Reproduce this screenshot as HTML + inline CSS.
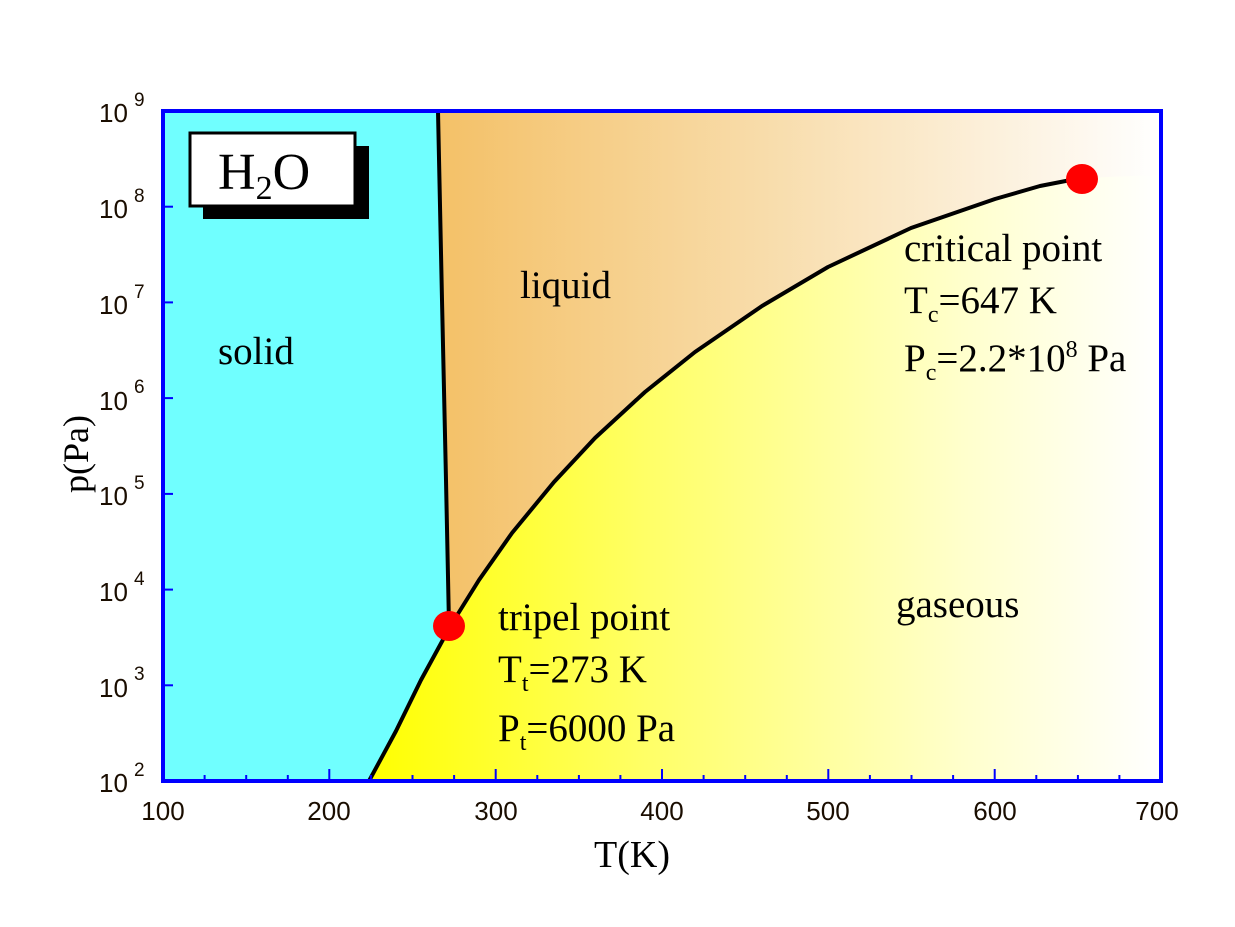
<!DOCTYPE html>
<html><head><meta charset="utf-8"><style>
html,body{margin:0;padding:0;background:#fff;}
svg{display:block;}
.tk{font-family:"Liberation Sans",sans-serif;font-size:26px;fill:#1a0d00;}
.sm{font-family:"Liberation Sans",sans-serif;font-size:19px;fill:#1a0d00;}
.sf{font-family:"Liberation Serif",serif;fill:#000;}
</style></head><body>
<svg width="1235" height="927" viewBox="0 0 1235 927" xmlns="http://www.w3.org/2000/svg">
<defs>
<linearGradient id="liq" x1="163" y1="0" x2="1161" y2="0" gradientUnits="userSpaceOnUse">
<stop offset="0.28" stop-color="#f4c168"/><stop offset="0.6" stop-color="#f8dcaa"/><stop offset="1" stop-color="#ffffff"/></linearGradient>
<linearGradient id="gas" x1="368" y1="0" x2="1161" y2="0" gradientUnits="userSpaceOnUse">
<stop offset="0" stop-color="#ffff00"/><stop offset="0.35" stop-color="#ffff66"/><stop offset="0.75" stop-color="#ffffcc"/><stop offset="1" stop-color="#ffffff"/></linearGradient>
</defs>
<rect x="163" y="111" width="998" height="670" fill="url(#liq)"/>
<path d="M369,781 L396,731 L421,680 L451,625 L479,580 L512,533 L554,482 L595,438 L645,392 L695,352 L762,306 L828,267 L911,228 L995,199 L1040,186 L1081,178 L1161,175 L1161,781 Z" fill="url(#gas)"/>
<path d="M163,111 L438,111 L449,625 L421,680 L396,731 L369,781 L163,781 Z" fill="#70ffff"/>
<path d="M438,111 L442,300 L446,480 L449,625" fill="none" stroke="#000" stroke-width="4"/>
<path d="M369,781 L396,731 L421,680 L451,625 L479,580 L512,533 L554,482 L595,438 L645,392 L695,352 L762,306 L828,267 L911,228 L995,199 L1040,186 L1081,178" fill="none" stroke="#000" stroke-width="4" stroke-linejoin="round"/>
<ellipse cx="449" cy="626" rx="16" ry="15" fill="#f00"/>
<ellipse cx="1082" cy="179" rx="16" ry="15" fill="#f00"/>
<rect x="163" y="111" width="998" height="670" fill="none" stroke="#0000ff" stroke-width="4"/>
<g stroke="#0000ff" stroke-width="2">
<line x1="163" y1="206.7" x2="173" y2="206.7"/><line x1="163" y1="302.4" x2="173" y2="302.4"/><line x1="163" y1="398.1" x2="173" y2="398.1"/><line x1="163" y1="493.9" x2="173" y2="493.9"/><line x1="163" y1="589.6" x2="173" y2="589.6"/><line x1="163" y1="685.3" x2="173" y2="685.3"/>
<line x1="329.3" y1="781" x2="329.3" y2="769"/><line x1="495.7" y1="781" x2="495.7" y2="769"/><line x1="662" y1="781" x2="662" y2="769"/><line x1="828.3" y1="781" x2="828.3" y2="769"/><line x1="994.7" y1="781" x2="994.7" y2="769"/>
<line x1="204.6" y1="781" x2="204.6" y2="775"/><line x1="246.2" y1="781" x2="246.2" y2="775"/><line x1="287.8" y1="781" x2="287.8" y2="775"/>
<line x1="370.9" y1="781" x2="370.9" y2="775"/><line x1="412.5" y1="781" x2="412.5" y2="775"/><line x1="454.1" y1="781" x2="454.1" y2="775"/>
<line x1="537.3" y1="781" x2="537.3" y2="775"/><line x1="578.9" y1="781" x2="578.9" y2="775"/><line x1="620.4" y1="781" x2="620.4" y2="775"/>
<line x1="703.6" y1="781" x2="703.6" y2="775"/><line x1="745.2" y1="781" x2="745.2" y2="775"/><line x1="786.8" y1="781" x2="786.8" y2="775"/>
<line x1="869.9" y1="781" x2="869.9" y2="775"/><line x1="911.5" y1="781" x2="911.5" y2="775"/><line x1="953.1" y1="781" x2="953.1" y2="775"/>
<line x1="1036.3" y1="781" x2="1036.3" y2="775"/><line x1="1077.9" y1="781" x2="1077.9" y2="775"/><line x1="1119.4" y1="781" x2="1119.4" y2="775"/>
</g>
<g class="tk">
<text x="99" y="122">10</text><text x="99" y="218">10</text><text x="99" y="314">10</text><text x="99" y="410">10</text><text x="99" y="505">10</text><text x="99" y="601">10</text><text x="99" y="697">10</text><text x="99" y="792">10</text>
</g>
<g class="sm">
<text x="134" y="106">9</text><text x="134" y="202">8</text><text x="134" y="298">7</text><text x="134" y="393">6</text><text x="134" y="489">5</text><text x="134" y="585">4</text><text x="134" y="680">3</text><text x="134" y="776">2</text>
</g>
<g class="tk" text-anchor="middle">
<text x="163" y="820">100</text><text x="329" y="820">200</text><text x="496" y="820">300</text><text x="662" y="820">400</text><text x="828" y="820">500</text><text x="995" y="820">600</text><text x="1157" y="820">700</text>
</g>
<text class="sf" x="632" y="867" font-size="38" text-anchor="middle">T(K)</text>
<text class="sf" font-size="36" text-anchor="middle" transform="translate(88,454) rotate(-90)">p(Pa)</text>
<rect x="203" y="146" width="166" height="73" fill="#000"/>
<rect x="190" y="133" width="165" height="73" fill="#fff" stroke="#000" stroke-width="3"/>
<text class="sf" x="218" y="189" font-size="52">H<tspan font-size="34" dy="10">2</tspan><tspan dy="-10">O</tspan></text>
<g class="sf" font-size="39">
<text x="218" y="364">solid</text>
<text x="520" y="298">liquid</text>
<text x="896" y="617">gaseous</text>
<text x="904" y="261">critical point</text>
<text x="904" y="313">T<tspan font-size="24" dy="9">c</tspan><tspan dy="-9">=647 K</tspan></text>
<text x="904" y="371">P<tspan font-size="24" dy="9">c</tspan><tspan dy="-9">=2.2*10</tspan><tspan font-size="24" dy="-14">8</tspan><tspan dy="14"> Pa</tspan></text>
<text x="498" y="630">tripel point</text>
<text x="498" y="682">T<tspan font-size="24" dy="9">t</tspan><tspan dy="-9">=273 K</tspan></text>
<text x="498" y="741">P<tspan font-size="24" dy="9">t</tspan><tspan dy="-9">=6000 Pa</tspan></text>
</g>
</svg>
</body></html>
